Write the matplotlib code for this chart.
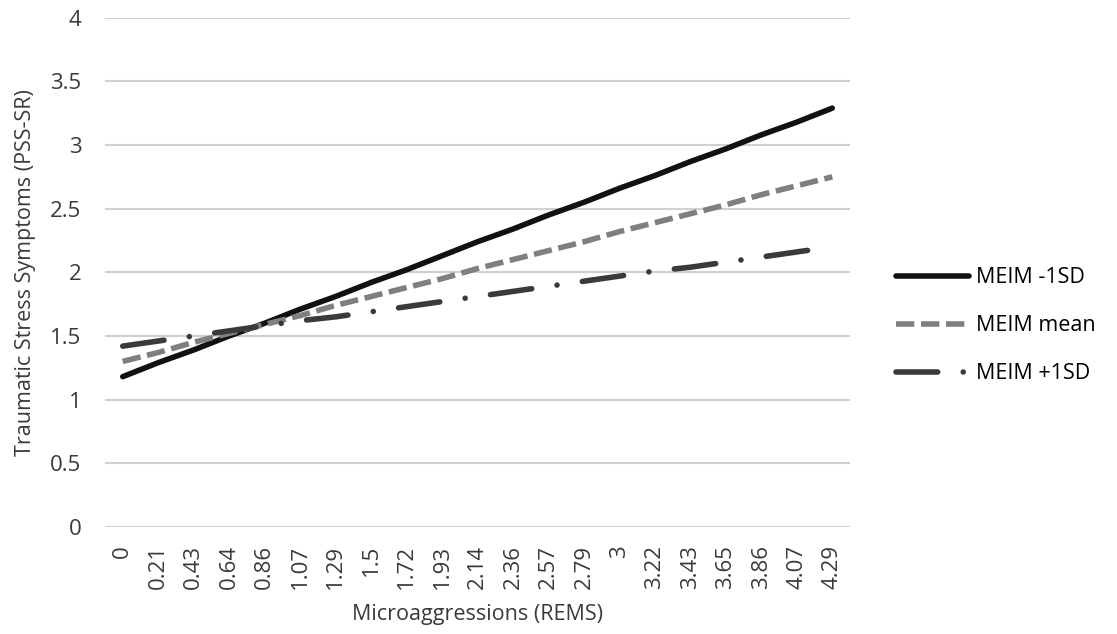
import matplotlib
matplotlib.use("Agg")
import matplotlib.pyplot as plt
import numpy as np

plt.rcParams['font.family'] = ['Open Sans', 'DejaVu Sans']

# catégories de l'axe x (REMS)
x_labels = ["0", "0.21", "0.43", "0.64", "0.86", "1.07", "1.29", "1.5", "1.72", "1.93",
            "2.14", "2.36", "2.57", "2.79", "3", "3.22", "3.43", "3.65", "3.86", "4.07", "4.29"]

meim_minus = [1.18, 1.29, 1.39, 1.50, 1.60, 1.71, 1.81, 1.92, 2.02, 2.13, 2.24,
              2.34, 2.45, 2.55, 2.66, 2.76, 2.87, 2.97, 3.08, 3.18, 3.29]
meim_mean = [1.30, 1.37, 1.45, 1.52, 1.59, 1.66, 1.74, 1.81, 1.88, 1.95, 2.03,
             2.10, 2.17, 2.24, 2.32, 2.39, 2.46, 2.53, 2.61, 2.68, 2.75]
meim_plus = [1.42, 1.46, 1.50, 1.54, 1.58, 1.62, 1.65, 1.69, 1.73, 1.77, 1.81,
             1.85, 1.89, 1.93, 1.97, 2.01, 2.04, 2.08, 2.12, 2.16, 2.20]

y_ticks = [0, 0.5, 1, 1.5, 2, 2.5, 3, 3.5, 4]
y_labels = ["0", "0.5", "1", "1.5", "2", "2.5", "3", "3.5", "4"]

fig = plt.figure(figsize=(11.17, 6.34), dpi=100)
ax = fig.add_axes([0.094, 0.169, 0.667, 0.803])

x = np.arange(len(x_labels))
LW = 4

l1, = ax.plot(x, meim_minus, color='#111111', lw=LW, solid_capstyle='round', label='MEIM -1SD')
l2, = ax.plot(x, meim_mean, color='#7f7f7f', lw=LW, dashes=(3.3, 1.2), label='MEIM mean')
l3, = ax.plot(x, meim_plus, color='#3a3a3a', lw=LW, dash_capstyle='round',
              dashes=(7.5, 4.6, 0.01, 4.6), label='MEIM +1SD')

ax.set_xlim(-0.5, len(x_labels) - 0.5)
ax.set_ylim(0, 4)
ax.set_xticks(x)
ax.set_xticklabels(x_labels, rotation=90, fontsize=16, color='#3a3a3a')
ax.set_yticks(y_ticks)
ax.set_yticklabels(y_labels, fontsize=16, color='#3a3a3a')
ax.tick_params(axis='y', length=0, pad=17)
ax.tick_params(axis='x', length=0, pad=13)

ax.grid(axis='y', color='#d0d0d0', lw=1.5)
ax.set_axisbelow(True)
for s in ax.spines.values():
    s.set_visible(False)

ax.set_xlabel("Microaggressions (REMS)", fontsize=15.5, color='#3a3a3a', labelpad=11)
ax.set_ylabel("Traumatic Stress Symptoms (PSS-SR)", fontsize=15.5, color='#3a3a3a', labelpad=10)

fig.legend(handles=[l1, l2, l3], loc='center left', bbox_to_anchor=(0.785, 0.486),
           frameon=False, fontsize=15.5, handlelength=3.4, labelspacing=1.25, handletextpad=0.3)

fig.savefig("out.png", dpi=100)
